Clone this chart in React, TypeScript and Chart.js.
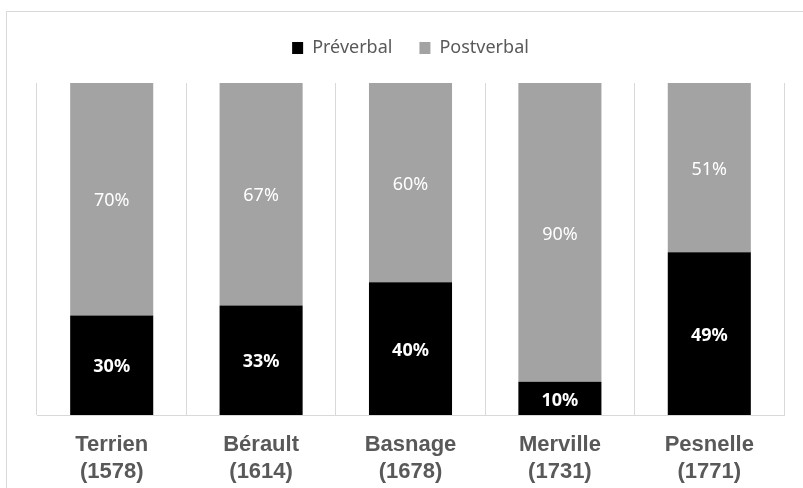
import React, { useEffect, useRef } from "react";
import { Chart, registerables } from "chart.js";

Chart.register(...registerables);

const categories: string[][] = [
  ["Terrien", "(1578)"],
  ["Bérault", "(1614)"],
  ["Basnage", "(1678)"],
  ["Merville", "(1731)"],
  ["Pesnelle", "(1771)"],
];
const preverbal = [30, 33, 40, 10, 49];
const postverbal = [70, 67, 60, 90, 51];
const seriesNames = ["Préverbal", "Postverbal"];

const labelPlugin = {
  id: "segLabels",
  afterDatasetsDraw(chart: any) {
    const ctx = chart.ctx;
    ctx.save();
    ctx.textAlign = "center";
    ctx.textBaseline = "middle";
    ctx.fillStyle = "#ffffff";
    chart.data.datasets.forEach((ds: any, di: number) => {
      const meta = chart.getDatasetMeta(di);
      ctx.font = (di === 0 ? "bold " : "") + '18px "Noto Sans"';
      meta.data.forEach((el: any, i: number) => {
        const p = el.getProps(["x", "y", "base"], true);
        ctx.fillText(ds.data[i] + "%", p.x, (p.y + p.base) / 2 + 2);
      });
    });
    ctx.restore();
  },
};

export default function App() {
  const ref = useRef<HTMLCanvasElement>(null);
  useEffect(() => {
    document.body.style.overflow = "hidden";
    const chart = new Chart(ref.current!, {
      type: "bar",
      data: {
        labels: categories,
        datasets: [
          {
            label: seriesNames[0],
            data: preverbal,
            backgroundColor: "#000000",
            borderWidth: 0,
            barPercentage: 0.556,
            categoryPercentage: 1,
          },
          {
            label: seriesNames[1],
            data: postverbal,
            backgroundColor: "#a3a3a3",
            borderWidth: 0,
            barPercentage: 0.556,
            categoryPercentage: 1,
          },
        ],
      },
      options: {
        animation: false,
        responsive: false,
        layout: { padding: { left: 37, right: 19, top: 12, bottom: 0 } },
        plugins: {
          legend: {
            position: "top",
            labels: {
              boxWidth: 11,
              boxHeight: 12,
              padding: 27,
              color: "#595959",
              font: { family: "Noto Sans", size: 18 },
            },
          },
          tooltip: { enabled: false },
        },
        scales: {
          x: {
            stacked: true,
            grid: { offset: true, color: "#d9d9d9", drawTicks: false },
            border: { display: true, color: "#d9d9d9" },
            ticks: {
              padding: 17,
              color: "#595959",
              font: { family: "Liberation Sans", size: 22, weight: "bold", lineHeight: 1.2 },
              maxRotation: 0,
              autoSkip: false,
            },
            afterFit: (s: any) => {
              s.height = 73;
            },
          },
          xTop: {
            type: "category",
            position: "top",
            labels: categories.map((c) => c[0]),
            grid: { display: false },
            border: { display: false },
            ticks: { display: false },
            afterFit: (s: any) => {
              s.height = 16;
            },
          },
          y: {
            stacked: true,
            display: false,
            min: 0,
            max: 100,
          },
        },
      },
      plugins: [labelPlugin],
    } as any);
    return () => chart.destroy();
  }, []);
  return (
    <div>
      <div
        style={{
          position: "fixed",
          left: 6,
          top: 11,
          width: 900,
          height: 600,
          border: "1px solid #d9d9d9",
        }}
      />
      <canvas
        ref={ref}
        width={803}
        height={488}
        style={{ position: "fixed", left: 0, top: 0, width: 803, height: 488 }}
      />
    </div>
  );
}
